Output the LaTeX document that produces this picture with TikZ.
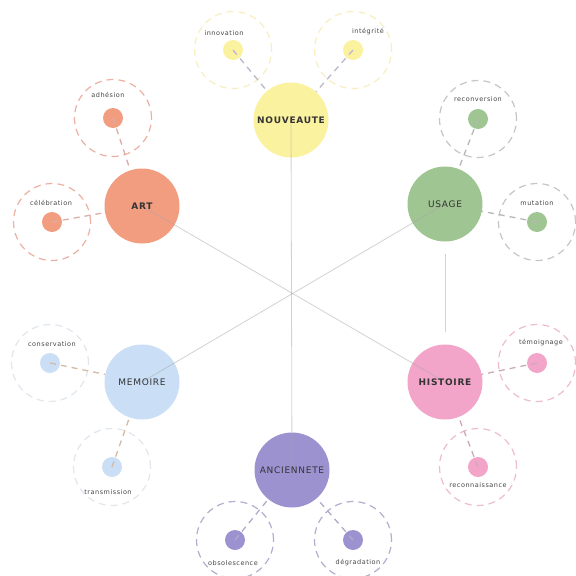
\documentclass[tikz,border=0pt]{standalone}
\usepackage{fontspec}
\newfontfamily\mainfnt[LetterSpace=8]{DejaVu Sans}
\newfontfamily\subfnt[LetterSpace=8]{DejaVu Sans}
\definecolor{cNou}{HTML}{FBF2A0}
\definecolor{cArt}{HTML}{F29C80}
\definecolor{cUsa}{HTML}{9FC592}
\definecolor{cHis}{HTML}{F2A5C8}
\definecolor{cMem}{HTML}{CADFF5}
\definecolor{cAnc}{HTML}{9C92D0}
\definecolor{rNou}{HTML}{F7EFC2}
\definecolor{rArt}{HTML}{EDB0A3}
\definecolor{rUsa}{HTML}{C6C6C6}
\definecolor{rHis}{HTML}{EEBCD0}
\definecolor{rMem}{HTML}{E0E7EE}
\definecolor{rAnc}{HTML}{B3AECF}
\definecolor{sNou}{HTML}{BDB6CC}
\definecolor{sArt}{HTML}{D9AFA5}
\definecolor{sUsa}{HTML}{B8B8B8}
\definecolor{sHis}{HTML}{CCA9B9}
\definecolor{sMem}{HTML}{D5BBA5}
\definecolor{sAnc}{HTML}{B0AACB}
\begin{document}
\begin{tikzpicture}[x=1pt,y=-1pt,
  mainc/.style={circle,minimum size=75pt,inner sep=0pt},
  smallc/.style={circle,minimum size=20pt,inner sep=0pt},
  ringc/.style={circle,minimum size=77pt,inner sep=0pt,dash pattern=on 7pt off 5pt,line width=1.2pt},
  hub/.style={draw=black!35,line width=0.8pt,opacity=0.5},
  spoke/.style={dash pattern=on 6pt off 5pt,line width=1.3pt},
  mainlab/.style={font=\mainfnt\fontsize{9}{10}\selectfont,text=black!80,inner sep=0pt},
  sublab/.style={font=\subfnt\fontsize{6.5}{7}\selectfont,text=black!72,inner sep=0pt}]
\useasboundingbox (0,0) rectangle (576,576);
\fill[white] (0,0) rectangle (576,576);

% main circles
\node[mainc,fill=cNou] (nouv) at (291,120) {};
\node[mainc,fill=cUsa] (usa) at (445,204) {};
\node[mainc,fill=cHis] (his) at (445,382) {};
\node[mainc,fill=cAnc] (anc) at (292,470) {};
\node[mainc,fill=cMem] (mem) at (142,382) {};
\node[mainc,fill=cArt] (art) at (142,206) {};

% rings
\node[ringc,draw=rNou] (innoR) at (233,50) {};
\node[ringc,draw=rNou] (integR) at (353,50) {};
\node[ringc,draw=rArt] (adhR) at (113,118) {};
\node[ringc,draw=rArt] (celR) at (52,222) {};
\node[ringc,draw=rUsa] (recvR) at (478,119) {};
\node[ringc,draw=rUsa] (mutR) at (537,222) {};
\node[ringc,draw=rHis] (temR) at (537,363) {};
\node[ringc,draw=rHis] (recoR) at (478,467) {};
\node[ringc,draw=rMem] (consR) at (50,363) {};
\node[ringc,draw=rMem] (transR) at (112,467) {};
\node[ringc,draw=rAnc] (obsR) at (235,540) {};
\node[ringc,draw=rAnc] (degR) at (353,540) {};

% small circles
\node[smallc,fill=cNou] (inno) at (233,50) {};
\node[smallc,fill=cNou] (integ) at (353,50) {};
\node[smallc,fill=cArt] (adh) at (113,118) {};
\node[smallc,fill=cArt] (cel) at (52,222) {};
\node[smallc,fill=cUsa] (recv) at (478,119) {};
\node[smallc,fill=cUsa] (mut) at (537,222) {};
\node[smallc,fill=cHis] (tem) at (537,363) {};
\node[smallc,fill=cHis] (reco) at (478,467) {};
\node[smallc,fill=cMem] (cons) at (50,363) {};
\node[smallc,fill=cMem] (trans) at (112,467) {};
\node[smallc,fill=cAnc] (obs) at (235,540) {};
\node[smallc,fill=cAnc] (deg) at (353,540) {};

% dashed spokes
\draw[spoke,draw=sNou] (inno.center) -- (nouv);
\draw[spoke,draw=sNou] (integ.center) -- (nouv);
\draw[spoke,draw=sArt] (adh.center) -- (art);
\draw[spoke,draw=sArt] (cel.center) -- (art);
\draw[spoke,draw=sUsa] (recv.center) -- (usa);
\draw[spoke,draw=sUsa] (mut.center) -- (usa);
\draw[spoke,draw=sHis] (tem.center) -- (his);
\draw[spoke,draw=sHis] (reco.center) -- (his);
\draw[spoke,draw=sMem] (cons.center) -- (mem);
\draw[spoke,draw=sMem] (trans.center) -- (mem);
\draw[spoke,draw=sAnc] (obs.center) -- (anc);
\draw[spoke,draw=sAnc] (deg.center) -- (anc);

% hub lines
\draw[hub] (nouv.center) -- (anc.center);
\draw[hub] (art.center) -- (his.center);
\draw[hub] (mem.center) -- (usa.center);
\draw[hub,shorten <=12pt,shorten >=12pt] (usa) -- (his);

% main labels
\node[mainlab] (nouvL) at (nouv) {\bfseries NOUVEAUTE};
\node[mainlab] (usaL) at (usa) {USAGE};
\node[mainlab] (hisL) at (his) {\bfseries HISTOIRE};
\node[mainlab] (ancL) at (anc) {ANCIENNETE};
\node[mainlab] (memL) at (mem) {MEMOIRE};
\node[mainlab] (artL) at (art) {\bfseries ART};

% sub labels
\node[sublab] (innoL) at (224,33) {innovation};
\node[sublab] (integL) at (368,32) {intégrité};
\node[sublab] (adhL) at (108,95) {adhésion};
\node[sublab] (celL) at (51,203) {célébration};
\node[sublab] (recvL) at (478,99) {reconversion};
\node[sublab] (mutL) at (537,203) {mutation};
\node[sublab] (temL) at (541,343) {témoignage};
\node[sublab] (recoL) at (478,485) {reconnaissance};
\node[sublab] (consL) at (52,344) {conservation};
\node[sublab] (transL) at (108,492) {transmission};
\node[sublab] (obsL) at (233,563) {obsolescence};
\node[sublab] (degL) at (358,563) {dégradation};
\end{tikzpicture}
\end{document}
